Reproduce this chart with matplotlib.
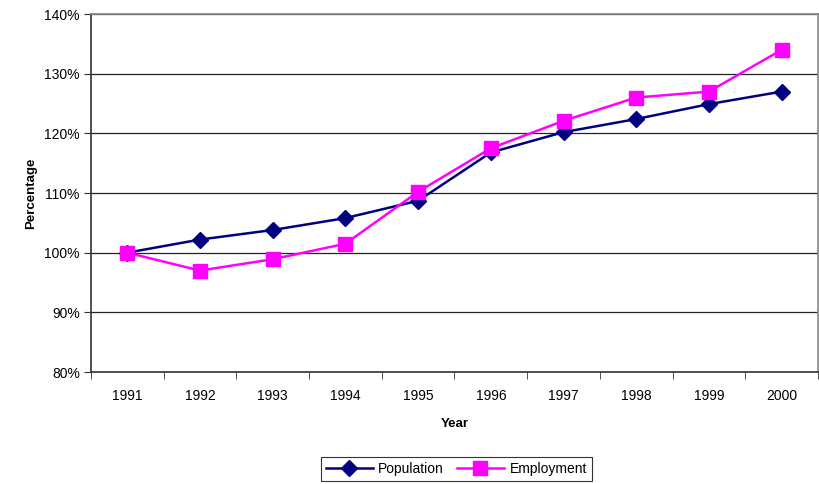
import matplotlib.pyplot as plt
import matplotlib.ticker as mticker

plt.rcParams['font.family'] = ['Liberation Sans', 'DejaVu Sans']

years = ['1991', '1992', '1993', '1994', '1995', '1996', '1997', '1998', '1999', '2000']
population = [100.0, 102.2, 103.8, 105.8, 108.7, 116.8, 120.2, 122.4, 124.9, 127.0]
employment = [100.0, 97.0, 98.9, 101.5, 110.2, 117.5, 122.1, 126.0, 127.0, 134.0]

fig = plt.figure(figsize=(8.19, 4.84), dpi=100)
ax = fig.add_axes([0.111, 0.2314, 0.8878, 0.7396])

x = list(range(len(years)))
ax.plot(x, population, '-D', color='#000080', linewidth=1.8, markersize=8.5, label='Population')
ax.plot(x, employment, '-s', color='#FF00FF', linewidth=1.8, markersize=10, label='Employment')

ax.set_xlim(-0.5, len(years) - 0.5)
ax.set_ylim(80, 140)
ax.set_yticks(range(80, 141, 10))
ax.yaxis.set_major_formatter(mticker.FuncFormatter(lambda v, p: f'{v:.0f}%'))
ax.set_xticks(x)
ax.set_xticklabels(years)
ax.xaxis.set_minor_locator(mticker.FixedLocator([i - 0.5 for i in range(len(years) + 1)]))
ax.tick_params(axis='x', which='major', length=0, pad=12, labelsize=10)
ax.tick_params(axis='x', which='minor', length=5, direction='out', color='#333333')
ax.tick_params(axis='y', length=5, direction='out', labelsize=10, pad=3, color='#333333')

ax.grid(axis='y', color='#222222', linewidth=0.9)
ax.set_axisbelow(True)
for side in ['left', 'bottom']:
    ax.spines[side].set_color('#333333')
    ax.spines[side].set_linewidth(1.2)
for side in ['top', 'right']:
    ax.spines[side].set_color('#888888')
    ax.spines[side].set_linewidth(1.2)

ax.set_xlabel('Year', fontsize=9.5, fontweight='bold', labelpad=11)
ax.set_ylabel('Percentage', fontsize=9.5, fontweight='bold', labelpad=5)

leg = fig.legend(loc='center', bbox_to_anchor=(0.557, 0.031), ncol=2, fontsize=10,
                 frameon=True, fancybox=False, edgecolor='black', handlelength=3.4,
                 columnspacing=0.9, handletextpad=0.4, borderpad=0.35)
leg.get_frame().set_linewidth(0.8)

fig.savefig('out.png', dpi=100)
